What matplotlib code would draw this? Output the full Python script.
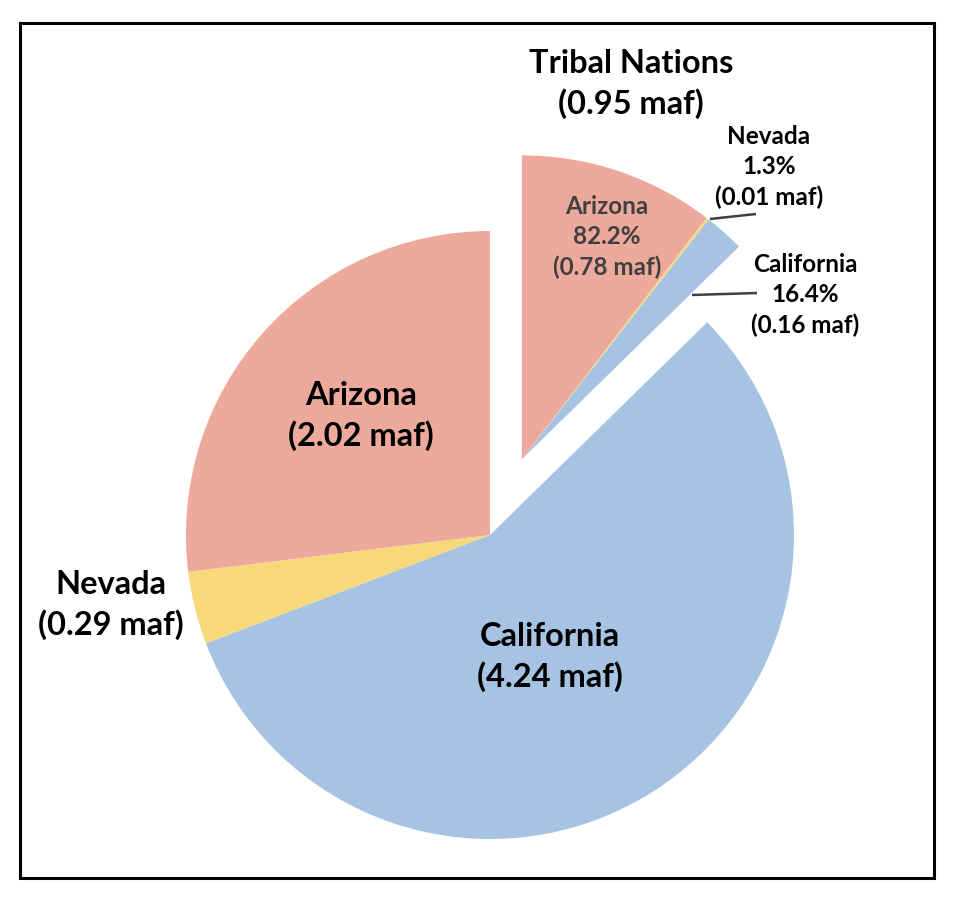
import numpy as np
import matplotlib
matplotlib.use("Agg")
import matplotlib.pyplot as plt
from matplotlib.patches import Rectangle

plt.rcParams['font.family'] = ['Lato', 'DejaVu Sans']

# Data (million acre-feet)
main_labels = ["Tribal Nations", "California", "Nevada", "Arizona"]
main_values = [0.95, 4.24, 0.29, 2.02]
tribal_labels = ["Arizona", "Nevada", "California"]
tribal_values = [0.78, 0.01, 0.16]
tribal_pct = ["82.2%", "1.3%", "16.4%"]

c_az = "#EDA99B"
c_ca = "#A7C3E3"
c_nv = "#F7D97A"

W, H = 960, 900
fig = plt.figure(figsize=(9.6, 9.0), dpi=100)
ax = fig.add_axes([0, 0, 1, 1])
ax.set_xlim(0, W)
ax.set_ylim(0, H)
ax.set_aspect('equal')
ax.axis('off')

cx, cy = 490, H - 535
R = 304
total = sum(main_values)

# main pie, tribal wedge left empty
ax.pie(main_values, radius=R, center=(cx, cy), startangle=90, counterclock=False,
       colors=["none", c_ca, c_nv, c_az],
       wedgeprops=dict(linewidth=0), frame=True)

# exploded tribal wedge, split into states
mid = np.deg2rad(90 - main_values[0] / total * 360 / 2)
off = 0.27 * R
tcx, tcy = cx + off * np.cos(mid), cy + off * np.sin(mid)
ax.pie([v / total for v in tribal_values], normalize=False, radius=R, center=(tcx, tcy),
       startangle=90, counterclock=False, colors=[c_az, c_nv, c_ca],
       wedgeprops=dict(linewidth=0), frame=True)

ax.set_xlim(0, W)
ax.set_ylim(0, H)
ax.axis('off')

def T(x, y, s, size, color="black", ls=1.4):
    ax.text(x, H - y, s, ha='center', va='center', fontsize=size, fontweight='bold',
            color=color, linespacing=ls)

T(631, 84, f"{main_labels[0]}\n({sum(main_values[:1]):.2f} maf)", 23.5)
T(361, 416, f"{main_labels[3]}\n({main_values[3]:.2f} maf)", 23.5)
T(550, 657, f"{main_labels[1]}\n({main_values[1]:.2f} maf)", 23.5)
T(111, 605, f"{main_labels[2]}\n({main_values[2]:.2f} maf)", 23.5)

gray = "#404040"
T(607, 237, f"{tribal_labels[0]}\n{tribal_pct[0]}\n({tribal_values[0]:.2f} maf)", 17.5, gray, 1.4)
T(769, 167, f"{tribal_labels[1]}\n{tribal_pct[1]}\n({tribal_values[1]:.2f} maf)", 17.5, "black", 1.4)
T(805, 295, f"{tribal_labels[2]}\n{tribal_pct[2]}\n({tribal_values[2]:.2f} maf)", 17.5, "black", 1.4)

ax.plot([710, 756], [H - 219, H - 214], color=gray, lw=1.8, solid_capstyle='butt')
ax.plot([692, 757], [H - 295, H - 293], color=gray, lw=1.8, solid_capstyle='butt')

fig.patches.append(Rectangle((20 / W, (H - 878) / H), 914 / W, 855 / H,
                             transform=fig.transFigure, fill=False,
                             edgecolor='black', linewidth=2.2))

fig.savefig("out.png", dpi=100, facecolor="white")
